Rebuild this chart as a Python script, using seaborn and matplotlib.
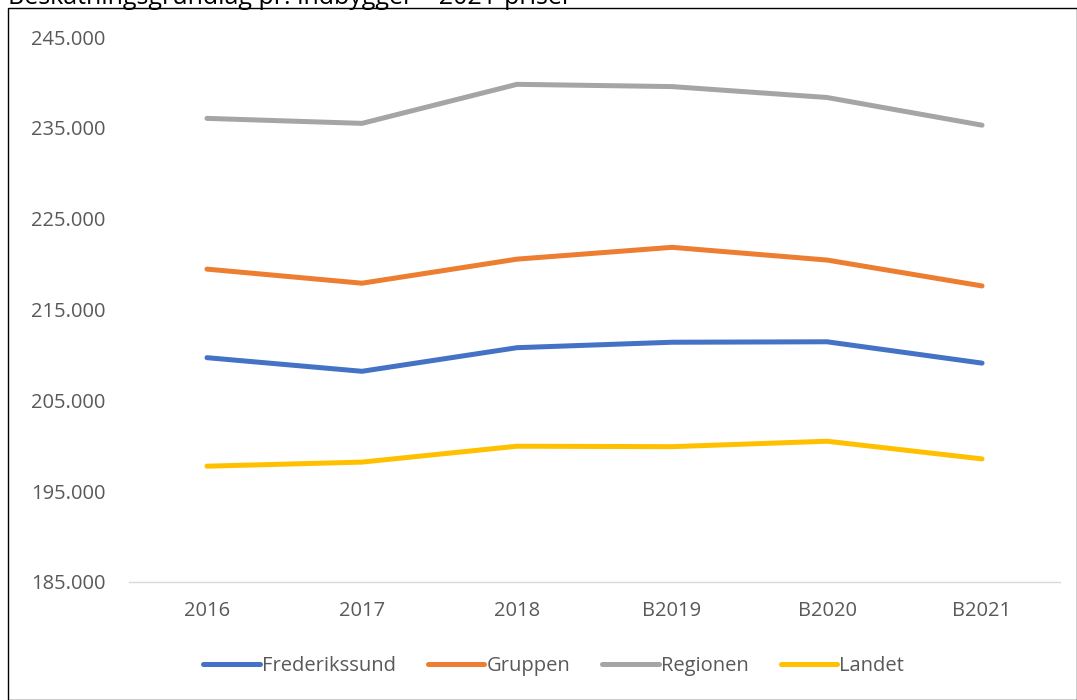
import pandas as pd
import matplotlib.pyplot as plt
import seaborn as sns
from matplotlib.patches import Rectangle

years = ['2016', '2017', '2018', 'B2019', 'B2020', 'B2021']
frederikssund = [209700, 208200, 210800, 211400, 211450, 209100]
gruppen = [219450, 217900, 220550, 221850, 220450, 217600]
regionen = [236050, 235500, 239800, 239550, 238350, 235300]
landet = [197750, 198200, 199950, 199900, 200500, 198550]

series = ['Frederikssund', 'Gruppen', 'Regionen', 'Landet']
colors = ['#4472C4', '#ED7D31', '#A5A5A5', '#FFC000']

data = pd.concat([
    pd.DataFrame({'År': years, 'Værdi': vals, 'Område': name})
    for name, vals in zip(series, [frederikssund, gruppen, regionen, landet])
])

sns.set_style('white')
plt.rcParams['font.family'] = ['Open Sans', 'DejaVu Sans']

fig = plt.figure(figsize=(10.77, 7.0), dpi=100)
ax = fig.add_axes([0.1202, 0.1686, 0.8636, 0.7784])

sns.lineplot(data=data, x='År', y='Værdi', hue='Område', hue_order=series,
             palette=colors, linewidth=3.6, sort=False, ax=ax)

ax.set_xlim(-0.5, 5.5)
ax.set_ylim(185000, 245000)
ax.set_yticks(range(185000, 245001, 10000))
ax.set_yticklabels([f'{v:,}'.replace(',', '.') for v in range(185000, 245001, 10000)])
ax.set_xlabel('')
ax.set_ylabel('')
ax.tick_params(axis='both', labelsize=14.5, colors='#595959', length=0)
ax.tick_params(axis='y', pad=17)
ax.tick_params(axis='x', pad=14)
for side in ['top', 'right', 'left']:
    ax.spines[side].set_visible(False)
ax.spines['bottom'].set_color('#D9D9D9')
ax.spines['bottom'].set_linewidth(1)

# legend along the bottom
handles, labels = ax.get_legend_handles_labels()
ax.get_legend().remove()
fig.legend(handles, labels, loc='center', bbox_to_anchor=(0.514, 0.048), ncol=4,
           frameon=False, fontsize=14.5, handlelength=2.8, handletextpad=0.1,
           columnspacing=1.6, labelcolor='#595959')

# chart frame and the clipped title above it
fig.patches.append(Rectangle((8 / 1077, 0.0), 1 - 8 / 1077, 1 - 8 / 700,
                             transform=fig.transFigure, fill=False,
                             edgecolor='black', linewidth=1))
fig.text(8 / 1077, 1 - 4 / 700, 'Beskatningsgrundlag pr. indbygger – 2021-priser',
         fontsize=18, color='black', va='baseline', ha='left')

fig.savefig('out.png', dpi=100)
